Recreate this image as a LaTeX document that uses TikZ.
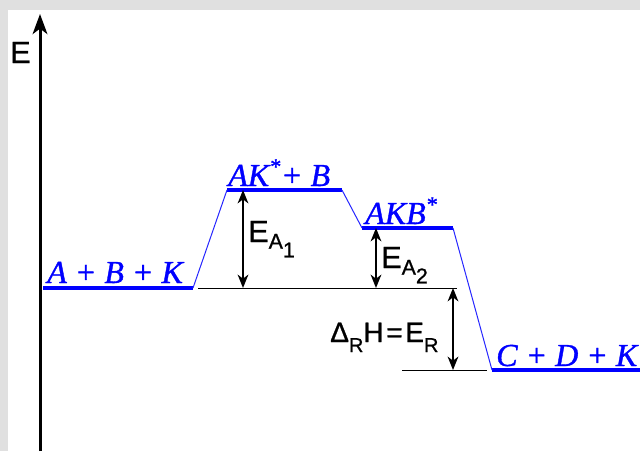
\documentclass[tikz,border=0pt]{standalone}
\usepackage{fontspec}
\setmainfont[FakeBold=0.9]{Liberation Sans}
\newfontfamily\tms[FakeBold=1.1]{Liberation Serif}
\usetikzlibrary{arrows.meta}
\definecolor{framegray}{HTML}{E0E0E0}
\newcommand{\lowsub}[3]{#1\raisebox{-#2}{\fontsize{15}{15}\selectfont #3}}
\begin{document}
\begin{tikzpicture}[x=0.75pt,y=-0.75pt,line join=round,
  level/.style={draw=blue,line width=3pt},
  slope/.style={draw=blue!85,line width=0.75pt},
  refline/.style={line width=0.75pt},
  dimarrow/.style={{Stealth[length=10pt,width=8pt,inset=3pt]}-{Stealth[length=10pt,width=8pt,inset=3pt]},line width=1.5pt},
  species/.style={text=blue,font=\tms\itshape\fontsize{24}{26}\selectfont,anchor=base west,inner sep=0pt},
  energy/.style={font=\fontsize{23}{25}\selectfont,anchor=base west,inner sep=0pt}]
\useasboundingbox (0,0) rectangle (640,451);
\fill[framegray] (0,0) rectangle (640,451);
\fill[white] (8,10) rectangle (640,451);
% levels
\path (43,288) coordinate (R1) (193,288) coordinate (R2)
      (227,190) coordinate (T1) (342,190) coordinate (T2)
      (362,228) coordinate (I1) (453,228) coordinate (I2)
      (492,370) coordinate (P1) (640,370) coordinate (P2);
% axis
\path (40,451) coordinate (Ebot) (40,14) coordinate (Etop);
\draw[-{Stealth[length=15pt,width=11pt,inset=4pt]},line width=2.25pt] (Ebot) -- (Etop);
\node[energy] (Elab) at (10,63) {E};
% reaction path
\draw[level] (R1) -- (R2);
\draw[level] (T1) -- (T2);
\draw[level] (I1) -- (I2);
\draw[level] (P1) -- (P2);
\draw[slope] (R2) -- (T1);
\draw[slope] (T2) -- (I1);
\draw[slope] (I2) -- (P1);
\node[species] (reac) at (47,283) {A + B + K};
\node[species] (trans) at (228,186) {AK\textsuperscript{*}+ B};
\node[species] (inter) at (365,224) {AKB\textsuperscript{*}};
\node[species] (prod) at (496,366) {C + D + K};
% reference lines
\path (198,288) coordinate (L1) (457,288) coordinate (L2)
      (402,370) coordinate (M1) (487,370) coordinate (M2);
\draw[refline] (L1) -- (L2);
\draw[refline] (M1) -- (M2);
% energies
\path (243,190) coordinate (a1) (243,288) coordinate (a2)
      (376,228) coordinate (b1) (376,288) coordinate (b2)
      (453,288) coordinate (c1) (453,370) coordinate (c2);
\draw[dimarrow] (a1) -- (a2);
\draw[dimarrow] (b1) -- (b2);
\draw[dimarrow] (c1) -- (c2);
\node[energy] (EA1) at (248,242) {E\raisebox{-5pt}{\fontsize{16}{16}\selectfont A\raisebox{-6.5pt}{1}}};
\node[energy] (EA2) at (381,268) {E\raisebox{-5pt}{\fontsize{16}{16}\selectfont A\raisebox{-6.5pt}{2}}};
\node[energy,font=\fontsize{21}{23}\selectfont] (ER) at (330,342)
  {\lowsub{Δ}{7.5pt}{R}H\kern2pt=\kern2pt\lowsub{E}{7.5pt}{R}};
\end{tikzpicture}
\end{document}
